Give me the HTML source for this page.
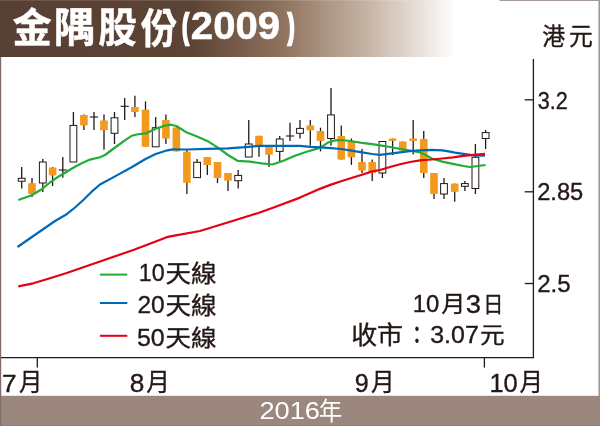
<!DOCTYPE html>
<html lang="zh-Hant"><head><meta charset="utf-8"><title>金隅股份(2009)</title>
<style>
html,body{margin:0;padding:0;background:#fff}
body{width:600px;height:426px;overflow:hidden}
svg{display:block}
text{font-family:"Liberation Sans","Noto Sans CJK TC",sans-serif;fill:#231815}
.t{font-size:24px}
.w{fill:#fff}
</style></head><body>
<svg width="600" height="426" viewBox="0 0 600 426">
<defs><linearGradient id="hg" x1="0" y1="0" x2="1" y2="0">
<stop offset="0" stop-color="#583f33"/><stop offset="0.42" stop-color="#5c4334"/><stop offset="0.62" stop-color="#8f735e"/><stop offset="0.8" stop-color="#c4b2a3"/><stop offset="1" stop-color="#ffffff"/></linearGradient></defs>
<rect x="0" y="0" width="600" height="426" fill="#fff"/>
<rect x="499.5" y="0" width="100.5" height="0.8" fill="#93837b"/>
<rect x="0" y="0" width="456" height="57" fill="url(#hg)"/>
<rect x="0" y="0" width="456" height="1" fill="#fff" fill-opacity="0.13"/>
<rect x="0" y="395.8" width="600" height="31" fill="#9b877e"/>
<rect x="0" y="424.8" width="600" height="1.2" fill="#8f7c74"/>
<rect x="0" y="57" width="1.2" height="369" fill="#806d65"/>
<rect x="598.5" y="0" width="1.5" height="396" fill="#a3938b"/>

<path d="M1 357.7H533.4V59" fill="none" stroke="#231815" stroke-width="1.3"/>
<path d="M524.7 99.8H533.4" stroke="#231815" stroke-width="1.3"/>
<path d="M524.7 191.8H533.4" stroke="#231815" stroke-width="1.3"/>
<path d="M524.7 283.5H533.4" stroke="#231815" stroke-width="1.3"/>
<path d="M37.3 357.7V367.6" stroke="#231815" stroke-width="1.3"/>
<path d="M484.4 357.7V367.6" stroke="#231815" stroke-width="1.3"/>
<path d="M21.7 167V188.5" stroke="#231815" stroke-width="1.3"/>
<rect x="18.30" y="178.3" width="6.8" height="2.9" fill="#fff" stroke="#231815" stroke-width="1"/>
<path d="M32 178V197" stroke="#231815" stroke-width="1.3"/>
<rect x="28.20" y="183.2" width="7.6" height="10.8" fill="#f39a1e"/>
<path d="M42.8 159V192" stroke="#231815" stroke-width="1.3"/>
<rect x="39.40" y="162" width="6.8" height="21.0" fill="#fff" stroke="#231815" stroke-width="1"/>
<path d="M52.6 167V186" stroke="#231815" stroke-width="1.3"/>
<rect x="48.80" y="167.5" width="7.6" height="7.9" fill="#f39a1e"/>
<path d="M62.8 157V177.7" stroke="#231815" stroke-width="1.3"/>
<path d="M58.70 170H66.90" stroke="#231815" stroke-width="1.1"/>
<path d="M73.4 112V162" stroke="#231815" stroke-width="1.3"/>
<rect x="70.00" y="125.4" width="6.8" height="36.6" fill="#fff" stroke="#231815" stroke-width="1"/>
<path d="M83.9 114.5V130" stroke="#231815" stroke-width="1.3"/>
<rect x="80.10" y="115" width="7.6" height="10.4" fill="#f39a1e"/>
<path d="M94 112V130" stroke="#231815" stroke-width="1.3"/>
<path d="M89.90 117H98.10" stroke="#231815" stroke-width="1.1"/>
<path d="M104 114.5V149.7" stroke="#231815" stroke-width="1.3"/>
<rect x="100.20" y="120.5" width="7.6" height="9.8" fill="#f39a1e"/>
<path d="M114.5 112V144" stroke="#231815" stroke-width="1.3"/>
<rect x="111.10" y="117.8" width="6.8" height="15.5" fill="#fff" stroke="#231815" stroke-width="1"/>
<path d="M124.7 98V120" stroke="#231815" stroke-width="1.3"/>
<path d="M120.60 106.3H128.80" stroke="#231815" stroke-width="1.1"/>
<path d="M134.9 95.8V117" stroke="#231815" stroke-width="1.3"/>
<rect x="131.10" y="107" width="7.6" height="5.0" fill="#f39a1e"/>
<path d="M145.5 101.4V146.8" stroke="#231815" stroke-width="1.3"/>
<rect x="141.70" y="109.6" width="7.6" height="37.2" fill="#f39a1e"/>
<path d="M155.7 117V146.8" stroke="#231815" stroke-width="1.3"/>
<rect x="152.30" y="127.7" width="6.8" height="19.1" fill="#fff" stroke="#231815" stroke-width="1"/>
<path d="M165.9 114.5V144" stroke="#231815" stroke-width="1.3"/>
<rect x="162.10" y="120" width="7.6" height="18.5" fill="#f39a1e"/>
<path d="M176.4 127.5V151.4" stroke="#231815" stroke-width="1.3"/>
<rect x="172.60" y="127.5" width="7.6" height="23.9" fill="#f39a1e"/>
<path d="M186.9 149V194" stroke="#231815" stroke-width="1.3"/>
<rect x="183.10" y="151.7" width="7.6" height="31.1" fill="#f39a1e"/>
<path d="M197.1 159V177.6" stroke="#231815" stroke-width="1.3"/>
<rect x="193.70" y="162.3" width="6.8" height="15.3" fill="#fff" stroke="#231815" stroke-width="1"/>
<path d="M207.3 157V175" stroke="#231815" stroke-width="1.3"/>
<rect x="203.50" y="157" width="7.6" height="8.0" fill="#f39a1e"/>
<path d="M217.5 162V183" stroke="#231815" stroke-width="1.3"/>
<rect x="213.70" y="162" width="7.6" height="16.0" fill="#f39a1e"/>
<path d="M228 173V191" stroke="#231815" stroke-width="1.3"/>
<rect x="224.20" y="173" width="7.6" height="7.7" fill="#f39a1e"/>
<path d="M238.2 170V188.6" stroke="#231815" stroke-width="1.3"/>
<rect x="234.80" y="175.4" width="6.8" height="5.3" fill="#fff" stroke="#231815" stroke-width="1"/>
<path d="M248.75 120V157" stroke="#231815" stroke-width="1.3"/>
<rect x="245.35" y="144" width="6.8" height="13.0" fill="#fff" stroke="#231815" stroke-width="1"/>
<path d="M259 135.8V156.7" stroke="#231815" stroke-width="1.3"/>
<rect x="255.20" y="135.8" width="7.6" height="9.2" fill="#f39a1e"/>
<path d="M269 146.8V167" stroke="#231815" stroke-width="1.3"/>
<rect x="265.20" y="146.8" width="7.6" height="7.9" fill="#f39a1e"/>
<path d="M279.7 136V162" stroke="#231815" stroke-width="1.3"/>
<rect x="276.30" y="139" width="6.8" height="12.4" fill="#fff" stroke="#231815" stroke-width="1"/>
<path d="M290 122.8V140.9" stroke="#231815" stroke-width="1.3"/>
<path d="M285.90 136H294.10" stroke="#231815" stroke-width="1.1"/>
<path d="M300 120V138.5" stroke="#231815" stroke-width="1.3"/>
<rect x="296.60" y="128.4" width="6.8" height="4.9" fill="#fff" stroke="#231815" stroke-width="1"/>
<path d="M310.3 120V145.8" stroke="#231815" stroke-width="1.3"/>
<rect x="306.50" y="125.4" width="7.6" height="4.9" fill="#f39a1e"/>
<path d="M320.5 127.7V151.4" stroke="#231815" stroke-width="1.3"/>
<rect x="316.70" y="131" width="7.6" height="9.9" fill="#f39a1e"/>
<path d="M331 88V145.8" stroke="#231815" stroke-width="1.3"/>
<rect x="327.60" y="114.9" width="6.8" height="23.6" fill="#fff" stroke="#231815" stroke-width="1"/>
<path d="M341.25 125.4V159.6" stroke="#231815" stroke-width="1.3"/>
<rect x="337.45" y="136" width="7.6" height="23.6" fill="#f39a1e"/>
<path d="M351.4 138.5V164.9" stroke="#231815" stroke-width="1.3"/>
<rect x="347.60" y="141.8" width="7.6" height="15.5" fill="#f39a1e"/>
<path d="M362 149V173" stroke="#231815" stroke-width="1.3"/>
<rect x="358.20" y="162" width="7.6" height="8.5" fill="#f39a1e"/>
<path d="M372.2 159.6V181" stroke="#231815" stroke-width="1.3"/>
<rect x="368.40" y="162" width="7.6" height="11.0" fill="#f39a1e"/>
<path d="M382.4 140.9V178" stroke="#231815" stroke-width="1.3"/>
<rect x="379.00" y="141.5" width="6.8" height="31.5" fill="#fff" stroke="#231815" stroke-width="1"/>
<path d="M392.6 138.5V155" stroke="#231815" stroke-width="1.3"/>
<rect x="388.80" y="138.5" width="7.6" height="2.4" fill="#f39a1e"/>
<path d="M402.8 141.5V150.7" stroke="#231815" stroke-width="1.3"/>
<rect x="399.00" y="141.5" width="7.6" height="9.2" fill="#f39a1e"/>
<path d="M413.2 120V154.6" stroke="#231815" stroke-width="1.3"/>
<rect x="409.40" y="138.5" width="7.6" height="2.4" fill="#f39a1e"/>
<path d="M423.75 131V178" stroke="#231815" stroke-width="1.3"/>
<rect x="419.95" y="139" width="7.6" height="34.0" fill="#f39a1e"/>
<path d="M434 173V199" stroke="#231815" stroke-width="1.3"/>
<rect x="430.20" y="173" width="7.6" height="21.0" fill="#f39a1e"/>
<path d="M444 178V199" stroke="#231815" stroke-width="1.3"/>
<rect x="440.60" y="183.6" width="6.8" height="10.4" fill="#fff" stroke="#231815" stroke-width="1"/>
<path d="M454.7 183.6V201.7" stroke="#231815" stroke-width="1.3"/>
<rect x="450.90" y="183.6" width="7.6" height="8.2" fill="#f39a1e"/>
<path d="M464.9 181V191" stroke="#231815" stroke-width="1.3"/>
<rect x="461.50" y="183.6" width="6.8" height="2.7" fill="#fff" stroke="#231815" stroke-width="1"/>
<path d="M475.4 144V194" stroke="#231815" stroke-width="1.3"/>
<rect x="472.00" y="157.3" width="6.8" height="31.2" fill="#fff" stroke="#231815" stroke-width="1"/>
<path d="M485.6 130V149" stroke="#231815" stroke-width="1.3"/>
<rect x="482.20" y="132.6" width="6.8" height="5.9" fill="#fff" stroke="#231815" stroke-width="1"/>
<polyline points="18.3,200.0 31.7,195.3 41.7,189.2 50.0,182.5 58.3,176.7 66.7,171.7 75.0,166.7 83.3,162.5 90.0,159.6 100.0,157.3 105.0,155.0 115.0,147.5 126.7,139.2 131.7,135.8 136.7,134.5 143.3,133.7 145.5,133.6 155.7,128.7 165.9,125.4 171.0,124.7 176.4,126.0 186.9,132.6 197.0,136.6 207.3,140.9 217.5,147.4 228.0,155.0 237.5,160.8 250.0,161.7 261.7,163.3 272.5,164.5 283.3,160.8 295.0,155.8 306.7,151.7 320.5,147.6 327.5,142.8 331.0,141.4 335.7,140.3 341.2,140.0 350.0,141.0 362.0,142.8 372.2,144.1 380.0,145.4 390.0,147.0 400.0,148.8 410.0,150.5 420.0,152.5 427.5,156.0 431.7,158.5 442.3,161.6 452.9,163.8 463.4,166.0 469.8,167.0 478.2,166.0 485.6,165.0" fill="none" stroke="#22ac38" stroke-width="2.2" stroke-linejoin="round" stroke-linecap="butt"/>
<polyline points="17.5,247.0 55.0,221.0 66.7,214.2 75.0,207.5 83.3,200.0 91.7,191.7 100.0,184.5 115.0,176.4 131.6,167.2 145.5,159.0 155.7,154.0 165.9,150.7 172.8,149.3 186.9,149.5 207.3,148.9 228.0,148.4 248.8,146.8 259.0,145.8 279.7,145.8 300.0,145.8 310.3,146.8 320.5,147.4 331.0,148.1 341.2,149.0 351.4,150.7 362.0,152.4 372.2,154.0 380.0,154.8 390.0,153.6 400.0,152.3 410.0,151.2 420.0,150.3 431.7,149.8 442.3,150.4 448.6,151.3 455.0,152.6 463.4,153.8 474.0,155.3 485.0,155.7" fill="none" stroke="#0068b7" stroke-width="2.2" stroke-linejoin="round" stroke-linecap="butt"/>
<polyline points="18.3,286.3 33.3,283.3 50.0,278.3 66.7,273.0 100.0,261.5 133.3,250.0 158.3,240.5 166.7,237.2 171.7,236.2 200.0,231.0 233.3,220.8 258.3,213.0 275.0,207.0 300.0,197.6 320.5,188.6 331.0,184.6 341.2,181.3 351.4,178.0 362.0,174.7 372.2,171.4 380.0,170.0 390.0,167.0 400.0,164.2 410.0,162.0 420.0,160.3 431.7,159.5 442.3,158.5 452.9,157.4 463.4,155.9 474.0,154.9 485.0,153.8" fill="none" stroke="#e60012" stroke-width="2.2" stroke-linejoin="round" stroke-linecap="butt"/>
<path d="M99.9 274.6H127.3" stroke="#22ac38" stroke-width="2"/>
<path d="M99.9 303H127.3" stroke="#0068b7" stroke-width="2"/>
<path d="M99.9 335.8H127.3" stroke="#e60012" stroke-width="2"/>
<g><text transform="matrix(1.0004 0 0 1 12.54 42.22)" style="font-size:39.3px;fill:#fff;stroke:#fff;stroke-width:0.45px;font-weight:700">金</text><text transform="matrix(1.0065 0 0 1 53.83 42.15)" style="font-size:41.26px;fill:#fff;stroke:#fff;stroke-width:0.45px;font-weight:700">隅</text><text transform="matrix(0.9401 0 0 1 98.26 41.89)" style="font-size:40.94px;fill:#fff;stroke:#fff;stroke-width:0.45px;font-weight:700">股</text><text transform="matrix(0.9033 0 0 1 140.64 42.64)" style="font-size:40.37px;fill:#fff;stroke:#fff;stroke-width:0.45px;font-weight:700">份</text><text transform="matrix(0.4859 0 0 1 182.74 36.56)" style="font-size:32.09px;fill:#fff;stroke:#fff;stroke-width:4.6px;font-weight:700">(</text><text transform="matrix(1.0552 0 0 1 190.86 38.87)" style="font-size:38.03px;fill:#fff;stroke:#fff;stroke-width:0.5px;font-weight:700">2009</text><text transform="matrix(0.4859 0 0 1 288.64 36.56)" style="font-size:32.09px;fill:#fff;stroke:#fff;stroke-width:4.6px;font-weight:700">)</text></g>
<g><text transform="matrix(0.9548 0 0 1 542.16 45.34)" style="font-size:24.01px;stroke:#231815;stroke-width:0.35px">港</text><text transform="matrix(0.9602 0 0 1 568.88 44.54)" style="font-size:24.79px;stroke:#231815;stroke-width:0.35px">元</text></g>
<g><text transform="matrix(0.8874 0 0 1 537.69 109.18)" style="font-size:24.44px;stroke:#231815;stroke-width:0.35px">3.2</text></g>
<g><text transform="matrix(0.9698 0 0 1 537.18 200.48)" style="font-size:24.44px;stroke:#231815;stroke-width:0.35px">2.85</text></g>
<g><text transform="matrix(0.987 0 0 1 537.17 291.98)" style="font-size:24.44px;stroke:#231815;stroke-width:0.35px">2.5</text></g>
<g><text transform="matrix(0.9686 0 0 1 138.82 281.38)" style="font-size:24.01px;stroke:#231815;stroke-width:0.35px">10</text><text transform="matrix(1.0914 0 0 1 165.44 282.04)" style="font-size:23.41px;stroke:#231815;stroke-width:0.35px">天線</text></g>
<g><text transform="matrix(1.0215 0 0 1 137.45 313.38)" style="font-size:24.01px;stroke:#231815;stroke-width:0.35px">20</text><text transform="matrix(1.0718 0 0 1 165.44 314.4)" style="font-size:23.84px;stroke:#231815;stroke-width:0.35px">天線</text></g>
<g><text transform="matrix(1.0335 0 0 1 136.98 345.58)" style="font-size:24.15px;stroke:#231815;stroke-width:0.35px">50</text><text transform="matrix(1.0964 0 0 1 165.44 346.24)" style="font-size:23.3px;stroke:#231815;stroke-width:0.35px">天線</text></g>
<g><text transform="matrix(0.9876 0 0 1 412.68 312.08)" style="font-size:24.15px;stroke:#231815;stroke-width:0.35px">10</text><text transform="matrix(1.0449 0 0 1 441.26 312.17)" style="font-size:23.18px;stroke:#231815;stroke-width:0.35px">月</text><text transform="matrix(1.1052 0 0 1 465.79 312.58)" style="font-size:24.86px;stroke:#231815;stroke-width:0.35px">3</text><text transform="matrix(0.9214 0 0 1 483.34 311.8)" style="font-size:21.83px;stroke:#231815;stroke-width:0.35px">日</text></g>
<g><text transform="matrix(1.059 0 0 1 351.13 344.24)" style="font-size:24.55px;stroke:#231815;stroke-width:0.35px">收市</text><text transform="matrix(0.7594 0 0 1 408.23 343.31)" style="font-size:22.97px;stroke:#231815;stroke-width:0.9px">：</text><text transform="matrix(1.0165 0 0 1 430.18 343.38)" style="font-size:24.58px;stroke:#231815;stroke-width:0.35px">3.07</text><text transform="matrix(1.1041 0 0 1 479.96 342.74)" style="font-size:22.31px;stroke:#231815;stroke-width:0.35px">元</text></g>
<g><text transform="matrix(1.067 0 0 1 2.08 391.62)" style="font-size:24.57px;stroke:#231815;stroke-width:0.35px">7</text><text transform="matrix(0.956 0 0 1 18.97 391.37)" style="font-size:24.45px;stroke:#231815;stroke-width:0.35px">月</text></g>
<g><text transform="matrix(1.0439 0 0 1 129.8 391.77)" style="font-size:25.14px;stroke:#231815;stroke-width:0.35px">8</text><text transform="matrix(0.9661 0 0 1 146.26 391.37)" style="font-size:24.45px;stroke:#231815;stroke-width:0.35px">月</text></g>
<g><text transform="matrix(0.9966 0 0 1 354.85 391.77)" style="font-size:25.14px;stroke:#231815;stroke-width:0.35px">9</text><text transform="matrix(0.9661 0 0 1 370.96 391.37)" style="font-size:24.45px;stroke:#231815;stroke-width:0.35px">月</text></g>
<g><text transform="matrix(1.0121 0 0 1 489.47 391.77)" style="font-size:25.14px;stroke:#231815;stroke-width:0.35px">10</text><text transform="matrix(0.9661 0 0 1 519.46 391.37)" style="font-size:24.45px;stroke:#231815;stroke-width:0.35px">月</text></g>
<g><text transform="matrix(1.1048 0 0 1 259.44 419.25)" style="font-size:24.65px;fill:#fff">2016</text><text transform="matrix(0.9466 0 0 1 318.82 420.01)" style="font-size:24.86px;fill:#fff">年</text></g>
</svg></body></html>
